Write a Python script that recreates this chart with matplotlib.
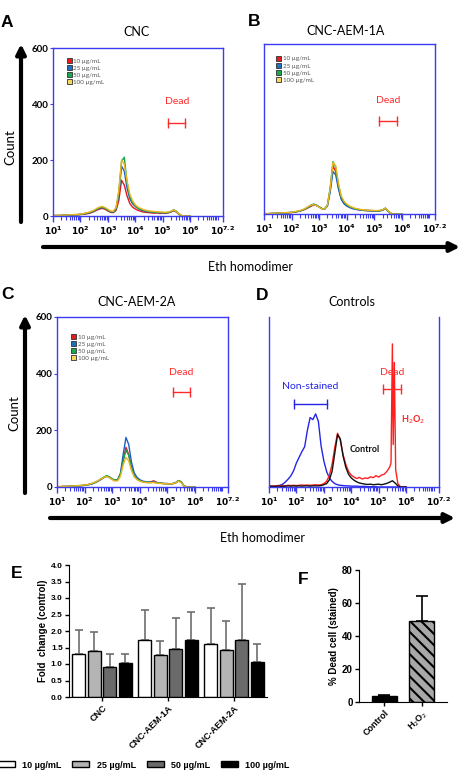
import matplotlib
matplotlib.use('Agg')
import matplotlib.pyplot as plt
import numpy as np
from matplotlib.patches import Patch
from matplotlib.ticker import FixedLocator, LogLocator, NullFormatter

plt.rcParams['font.family'] = ['Lato', 'DejaVu Sans']
plt.rcParams['hatch.linewidth'] = 1.5

W, H = 462, 778

# histogram bins (log10 of Eth homodimer intensity)
log_bins = [1.0, 1.1, 1.2, 1.3, 1.4, 1.5, 1.6, 1.7, 1.8, 1.9,
            2.0, 2.1, 2.2, 2.3, 2.4, 2.5, 2.6, 2.7, 2.8, 2.9,
            3.0, 3.1, 3.2, 3.3, 3.4, 3.5, 3.6, 3.7, 3.8, 3.9,
            4.0, 4.1, 4.2, 4.3, 4.4, 4.5, 4.6, 4.7, 4.8, 4.9,
            5.0, 5.1, 5.2, 5.3, 5.4, 5.5, 5.6, 5.7, 5.8, 5.9, 6.0]

conc_labels = ['10 µg/mL', '25 µg/mL', '50 µg/mL', '100 µg/mL']
line_colors = ['#e3191c', '#1c5fc4', '#17a34a', '#eeb51e']
box_colors = ['#e81c1c', '#1f6fc0', '#1aa84a', '#f5d860']

# panel A - CNC
cnc_10 = [2, 2, 1, 2, 2, 3, 3, 3, 4, 4, 5, 6, 7, 9, 12, 16, 21, 25, 27, 24,
          18, 13, 12, 20, 55, 128, 110, 72, 45, 32, 25, 20, 17, 14, 13, 12, 11, 10, 11, 9,
          10, 9, 11, 14, 19, 14, 5, 1, 0, 0, 0]
cnc_25 = [1, 2, 2, 2, 3, 3, 3, 4, 4, 5, 6, 7, 9, 11, 14, 18, 24, 28, 30, 27,
          21, 15, 14, 25, 75, 178, 160, 100, 62, 44, 34, 27, 22, 19, 16, 15, 14, 13, 12, 12,
          11, 11, 12, 15, 21, 16, 6, 1, 0, 0, 0]
cnc_50 = [1, 1, 2, 2, 3, 3, 4, 4, 5, 5, 6, 8, 10, 12, 15, 19, 25, 30, 31, 28,
          22, 16, 15, 28, 85, 195, 210, 120, 70, 48, 36, 28, 24, 20, 18, 16, 15, 14, 13, 13,
          12, 12, 13, 16, 22, 17, 6, 1, 0, 0, 0]
cnc_100 = [2, 2, 2, 3, 3, 3, 4, 5, 5, 6, 7, 8, 11, 13, 17, 21, 27, 32, 34, 30,
           24, 18, 17, 30, 90, 200, 185, 125, 78, 55, 40, 32, 27, 23, 20, 18, 17, 16, 15, 14,
           14, 13, 14, 17, 22, 16, 7, 2, 0, 0, 0]

# panel B - CNC-AEM-1A
aem1_10 = [1, 1, 1, 2, 2, 2, 3, 3, 4, 4, 5, 6, 8, 10, 13, 17, 22, 27, 32, 30,
           25, 19, 18, 30, 85, 170, 150, 95, 55, 38, 30, 25, 21, 18, 16, 14, 13, 12, 12, 11,
           11, 10, 12, 14, 20, 10, 2, 0, 0, 0, 0]
aem1_25 = [1, 1, 1, 2, 2, 3, 3, 4, 4, 5, 6, 7, 9, 11, 14, 18, 24, 30, 34, 31,
           25, 19, 17, 28, 78, 150, 138, 88, 52, 36, 28, 23, 19, 17, 15, 14, 13, 12, 11, 11,
           10, 10, 11, 13, 19, 9, 2, 0, 0, 0, 0]
aem1_50 = [1, 1, 2, 2, 2, 3, 3, 4, 4, 5, 6, 7, 9, 11, 14, 19, 25, 31, 35, 31,
           25, 19, 18, 32, 92, 185, 165, 102, 60, 42, 32, 26, 22, 19, 17, 15, 14, 13, 13, 12,
           12, 11, 12, 15, 21, 10, 2, 0, 0, 0, 0]
aem1_100 = [2, 2, 2, 2, 3, 3, 4, 4, 5, 5, 6, 8, 10, 12, 15, 20, 26, 31, 33, 30,
            24, 18, 18, 31, 90, 182, 170, 108, 64, 45, 35, 28, 24, 20, 18, 16, 15, 14, 13, 13,
            12, 12, 13, 15, 20, 11, 3, 0, 0, 0, 0]

# panel C - CNC-AEM-2A
aem2_10 = [1, 1, 2, 2, 2, 3, 3, 4, 4, 5, 6, 8, 10, 13, 17, 22, 28, 34, 38, 35,
           28, 24, 26, 45, 95, 140, 115, 68, 40, 28, 22, 19, 17, 16, 18, 22, 17, 14, 13, 12,
           12, 11, 12, 15, 22, 18, 4, 0, 0, 0, 0]
aem2_25 = [1, 1, 1, 2, 2, 3, 3, 4, 4, 5, 6, 7, 9, 12, 16, 21, 27, 33, 38, 34,
           27, 23, 25, 48, 115, 175, 150, 88, 50, 34, 26, 21, 19, 17, 17, 18, 16, 14, 13, 12,
           12, 11, 12, 14, 21, 17, 4, 0, 0, 0, 0]
aem2_50 = [1, 1, 2, 2, 2, 3, 3, 4, 5, 5, 6, 8, 10, 13, 17, 22, 29, 35, 40, 36,
           29, 24, 26, 44, 92, 130, 112, 66, 40, 28, 22, 19, 17, 16, 16, 17, 15, 14, 13, 12,
           12, 11, 12, 15, 23, 19, 5, 0, 0, 0, 0]
aem2_100 = [2, 2, 2, 2, 3, 3, 4, 4, 5, 6, 7, 8, 11, 14, 18, 23, 29, 34, 37, 33,
            26, 21, 22, 38, 78, 105, 92, 58, 36, 26, 21, 18, 16, 15, 15, 16, 14, 13, 12, 12,
            11, 11, 12, 14, 21, 16, 4, 0, 0, 0, 0]

# panel D - controls
ctrl_nonstained = [0, 1, 2, 4, 6, 10, 18, 28, 40, 58, 85, 105, 125, 142, 200, 245, 238, 258, 232, 145,
                   92, 55, 32, 20, 12, 8, 6, 5, 4, 4, 3, 3, 3, 2, 2, 2, 1, 1, 1, 1,
                   0, 0, 0, 0, 0, 0, 0, 0, 0, 0, 0]
ctrl_control = [2, 3, 2, 3, 3, 2, 3, 4, 3, 4, 3, 4, 3, 4, 4, 3, 4, 4, 4, 5,
                8, 12, 25, 55, 120, 185, 170, 110, 70, 45, 32, 24, 18, 14, 12, 10, 9, 10, 8, 9,
                10, 8, 10, 13, 17, 22, 14, 4, 0, 0, 0]
h2o2_log = [1.0, 1.1, 1.2, 1.3, 1.4, 1.5, 1.6, 1.7, 1.8, 1.9,
            2.0, 2.1, 2.2, 2.3, 2.4, 2.5, 2.6, 2.7, 2.8, 2.9,
            3.0, 3.1, 3.2, 3.3, 3.4, 3.5, 3.6, 3.7, 3.8, 3.9,
            4.0, 4.1, 4.2, 4.3, 4.4, 4.5, 4.6, 4.7, 4.8, 4.9,
            5.0, 5.1, 5.2, 5.3, 5.4, 5.45, 5.5, 5.53, 5.57, 5.62, 5.7, 5.8, 5.9, 6.0]
ctrl_h2o2 = [3, 4, 3, 5, 4, 5, 4, 6, 5, 6, 5, 6, 7, 6, 7, 6, 7, 8, 7, 8,
             12, 20, 40, 80, 140, 190, 165, 115, 80, 55, 42, 35, 30, 34, 28, 32, 30, 36, 33, 40,
             35, 42, 45, 55, 70, 85, 505, 150, 440, 60, 12, 0, 0, 0]

# panel E - fold change
groups = ['CNC', 'CNC-AEM-1A', 'CNC-AEM-2A']
fold_10 = [1.29, 1.74, 1.62]
fold_25 = [1.39, 1.26, 1.42]
fold_50 = [0.91, 1.44, 1.74]
fold_100 = [1.04, 1.74, 1.07]
sd_10 = [0.74, 0.90, 1.09]
sd_25 = [0.58, 0.44, 0.88]
sd_50 = [0.38, 0.95, 1.67]
sd_100 = [0.25, 0.84, 0.53]

# panel F - % dead cells
f_cats = ['Control', 'H$_2$O$_2$']
dead_pct = [3.6, 49.2]
dead_sd = [0.9, 15.2]

blue = '#3b3bf0'
red = '#ff2a2a'

fig = plt.figure(figsize=(W / 100, H / 100), dpi=100)


def box(l, t, r, b):
    return [l / W, 1 - b / H, (r - l) / W, (b - t) / H]


def flow_axes(rect, show_y=True, top=True):
    ax = fig.add_axes(box(*rect))
    ax.set_xscale('log')
    ax.set_xlim(10, 10 ** 7.2)
    ax.set_ylim(0, 600)
    for s in ax.spines.values():
        s.set_color(blue)
        s.set_linewidth(1)
    ax.spines['top'].set_visible(top)
    ax.xaxis.set_major_locator(FixedLocator([1e1, 1e2, 1e3, 1e4, 1e5, 1e6, 10 ** 7.2]))
    ax.set_xticklabels([r'$\mathbf{10^{1}}$', r'$\mathbf{10^{2}}$', r'$\mathbf{10^{3}}$',
                        r'$\mathbf{10^{4}}$', r'$\mathbf{10^{5}}$', r'$\mathbf{10^{6}}$',
                        r'$\mathbf{10^{7.2}}$'])
    ax.xaxis.set_minor_locator(LogLocator(base=10, subs=np.arange(1, 10), numticks=30))
    ax.xaxis.set_minor_formatter(NullFormatter())
    ax.tick_params(axis='x', which='major', colors=blue, labelcolor='black',
                   labelsize=6.5, length=4, width=1, pad=2)
    ax.tick_params(axis='x', which='minor', colors=blue, length=3, width=0.8)
    ax.set_yticks([0, 200, 400, 600])
    if show_y:
        ax.tick_params(axis='y', colors=blue, labelcolor='black', labelsize=7, length=2, pad=1)
        for lab in ax.get_yticklabels():
            lab.set_fontweight('bold')
    else:
        ax.tick_params(axis='y', left=False, labelleft=False)
    return ax


def dead_gate(ax, lo, hi, y_bar, y_txt, color=red, label='Dead'):
    ax.plot([10 ** lo, 10 ** hi], [y_bar, y_bar], color=color, lw=1,
            marker='|', markersize=7, mew=1)
    ax.text(10 ** ((lo + hi) / 2), y_txt, label, color=color, ha='center',
            va='center', fontsize=7.5)


def conc_panel(rect, series, gate, leg_xy, show_y):
    ax = flow_axes(rect, show_y)
    x = 10 ** np.array(log_bins)
    for vals, c in zip(series, line_colors):
        ax.plot(x, vals, color=c, lw=1.0)
    handles = [Patch(facecolor=c, edgecolor='#303030', lw=0.6, label=l)
               for c, l in zip(box_colors, conc_labels)]
    ax.legend(handles=handles, loc='upper left', bbox_to_anchor=leg_xy, fontsize=4.5,
              frameon=False, handlelength=0.8, handleheight=0.8, handletextpad=0.3,
              labelspacing=0.25, borderaxespad=0, borderpad=0, labelcolor='#555555')
    dead_gate(ax, *gate)
    return ax


conc_panel((53, 48, 223, 216), [cnc_10, cnc_25, cnc_50, cnc_100],
           (5.21, 5.82, 333, 408), (0.08, 0.94), True)
conc_panel((264, 44, 435, 214), [aem1_10, aem1_25, aem1_50, aem1_100],
           (5.18, 5.81, 328, 399), (0.07, 0.93), False)
conc_panel((57, 317, 228, 487), [aem2_10, aem2_25, aem2_50, aem2_100],
           (5.19, 5.83, 336, 403), (0.08, 0.9), True)

# panel D
axd = flow_axes((269, 317, 439, 487), show_y=False, top=False)
xb = 10 ** np.array(log_bins)
axd.plot(xb, ctrl_nonstained, color='#2525e8', lw=1.0)
axd.plot(10 ** np.array(h2o2_log), ctrl_h2o2, color='#ff1f1f', lw=1.0)
axd.plot(xb, ctrl_control, color='#111111', lw=1.0)
dead_gate(axd, 5.17, 5.82, 346, 403)
dead_gate(axd, 1.9, 3.1, 293, 356, color='#2525e8', label='Non-stained')
axd.text(10 ** 6.24, 236, 'H$_2$O$_2$', color='#ff1f1f', fontsize=6.5,
         fontweight='bold', ha='center', va='center')
axd.text(10 ** 4.5, 131, 'Control', color='#111111', fontsize=6.5,
         fontweight='bold', ha='center', va='center')

# panel E
arial = 'Liberation Sans'
axe = fig.add_axes(box(69, 565, 267, 697))
xg = np.arange(len(groups))
bar_w = 0.2
pitch = 0.235
e_vals = [fold_10, fold_25, fold_50, fold_100]
e_sds = [sd_10, sd_25, sd_50, sd_100]
e_colors = ['white', '#b4b4b4', '#6a6a6a', 'black']
for i, (v, s, c, l) in enumerate(zip(e_vals, e_sds, e_colors, conc_labels)):
    pos = xg + (i - 1.5) * pitch
    axe.bar(pos, v, bar_w, color=c, edgecolor='black', lw=1, label=l, zorder=2)
    axe.errorbar(pos, v, yerr=[np.zeros(len(v)), s], fmt='none', ecolor='#6e6e6e',
                 elinewidth=1.2, capsize=3, capthick=1.2, zorder=1)
axe.set_xlim(-0.5, 2.5)
axe.set_ylim(0, 4.0)
axe.set_yticks(np.arange(0, 4.01, 0.5))
axe.set_yticklabels([f'{t:.1f}' for t in np.arange(0, 4.01, 0.5)],
                    fontsize=6, fontweight='bold', family=arial)
axe.set_xticks(xg)
axe.set_xticklabels(groups, rotation=45, ha='right', rotation_mode='anchor',
                    fontsize=6.5, fontweight='bold', family=arial)
axe.spines['top'].set_visible(False)
axe.spines['right'].set_visible(False)
axe.tick_params(length=3, width=1, pad=1.5)
axe.set_ylabel('Fold  change (control)', fontsize=7, fontweight='bold', family=arial,
               labelpad=2)
fig.legend(*axe.get_legend_handles_labels(), loc='center left',
           bbox_to_anchor=(-0.015, 1 - 765 / H), ncol=4, frameon=False,
           prop={'family': arial, 'weight': 'bold', 'size': 6.5},
           handlelength=1.9, handleheight=0.6, handletextpad=0.8, columnspacing=1.2,
           borderpad=0)

# panel F
axf = fig.add_axes(box(359, 570, 447, 702))
xf = np.arange(len(f_cats))
axf.bar(xf[0], dead_pct[0], 0.67, color='black', edgecolor='black', lw=1, zorder=2)
axf.bar(xf[1], dead_pct[1], 0.67, color='#a8a8a8', edgecolor='black', lw=1,
        hatch='\\\\\\', zorder=2)
axf.errorbar(xf, dead_pct, yerr=[np.zeros(2), dead_sd], fmt='none', ecolor='black',
             elinewidth=1.2, capsize=4, capthick=1.2, zorder=1)
axf.set_xlim(-0.68, 1.67)
axf.set_ylim(0, 80)
axf.set_yticks([0, 20, 40, 60, 80])
axf.set_yticklabels(['0', '20', '40', '60', '80'], fontsize=7, fontweight='bold', family=arial)
axf.set_xticks(xf)
axf.set_xticklabels(f_cats, rotation=45, ha='right', rotation_mode='anchor',
                    fontsize=6.5, fontweight='bold', family=arial)
axf.spines['top'].set_visible(False)
axf.spines['right'].set_visible(False)
axf.tick_params(length=3, width=1, pad=1.5)
axf.set_ylabel('% Dead cell (stained)', fontsize=7, fontweight='bold', family=arial,
               labelpad=2)

# overlay: titles, panel letters, arrows
ov = fig.add_axes([0, 0, 1, 1], zorder=-1)
ov.set_xlim(0, W)
ov.set_ylim(H, 0)
ov.axis('off')
arrow = dict(arrowstyle='-|>', color='black', lw=3, mutation_scale=14, shrinkA=0, shrinkB=0)
ov.annotate('', xy=(21, 44), xytext=(21, 222), arrowprops=arrow)
ov.annotate('', xy=(25, 315), xytext=(25, 493), arrowprops=arrow)
ov.annotate('', xy=(460, 247), xytext=(43, 247), arrowprops=arrow)
ov.annotate('', xy=(455, 518), xytext=(50, 518), arrowprops=arrow)
ov.text(10, 147, 'Count', rotation=90, ha='center', va='center', fontsize=9.5)
ov.text(14, 413, 'Count', rotation=90, ha='center', va='center', fontsize=9.5)
ov.text(250, 267, 'Eth homodimer', ha='center', va='center', fontsize=9)
ov.text(262, 538, 'Eth homodimer', ha='center', va='center', fontsize=9)
for x, y, t in [(136, 32, 'CNC'), (346, 31, 'CNC-AEM-1A'),
                (137, 302, 'CNC-AEM-2A'), (352, 302, 'Controls')]:
    ov.text(x, y, t, ha='center', va='center', fontsize=9)
for x, y, t in [(7, 22, 'A'), (254, 21, 'B'), (8, 294, 'C'), (262, 295, 'D'),
                (17, 573, 'E'), (303, 579, 'F')]:
    ov.text(x, y, t, ha='center', va='center', fontsize=12.5, fontweight='bold', family=arial)

fig.savefig('out.png', dpi=100)
